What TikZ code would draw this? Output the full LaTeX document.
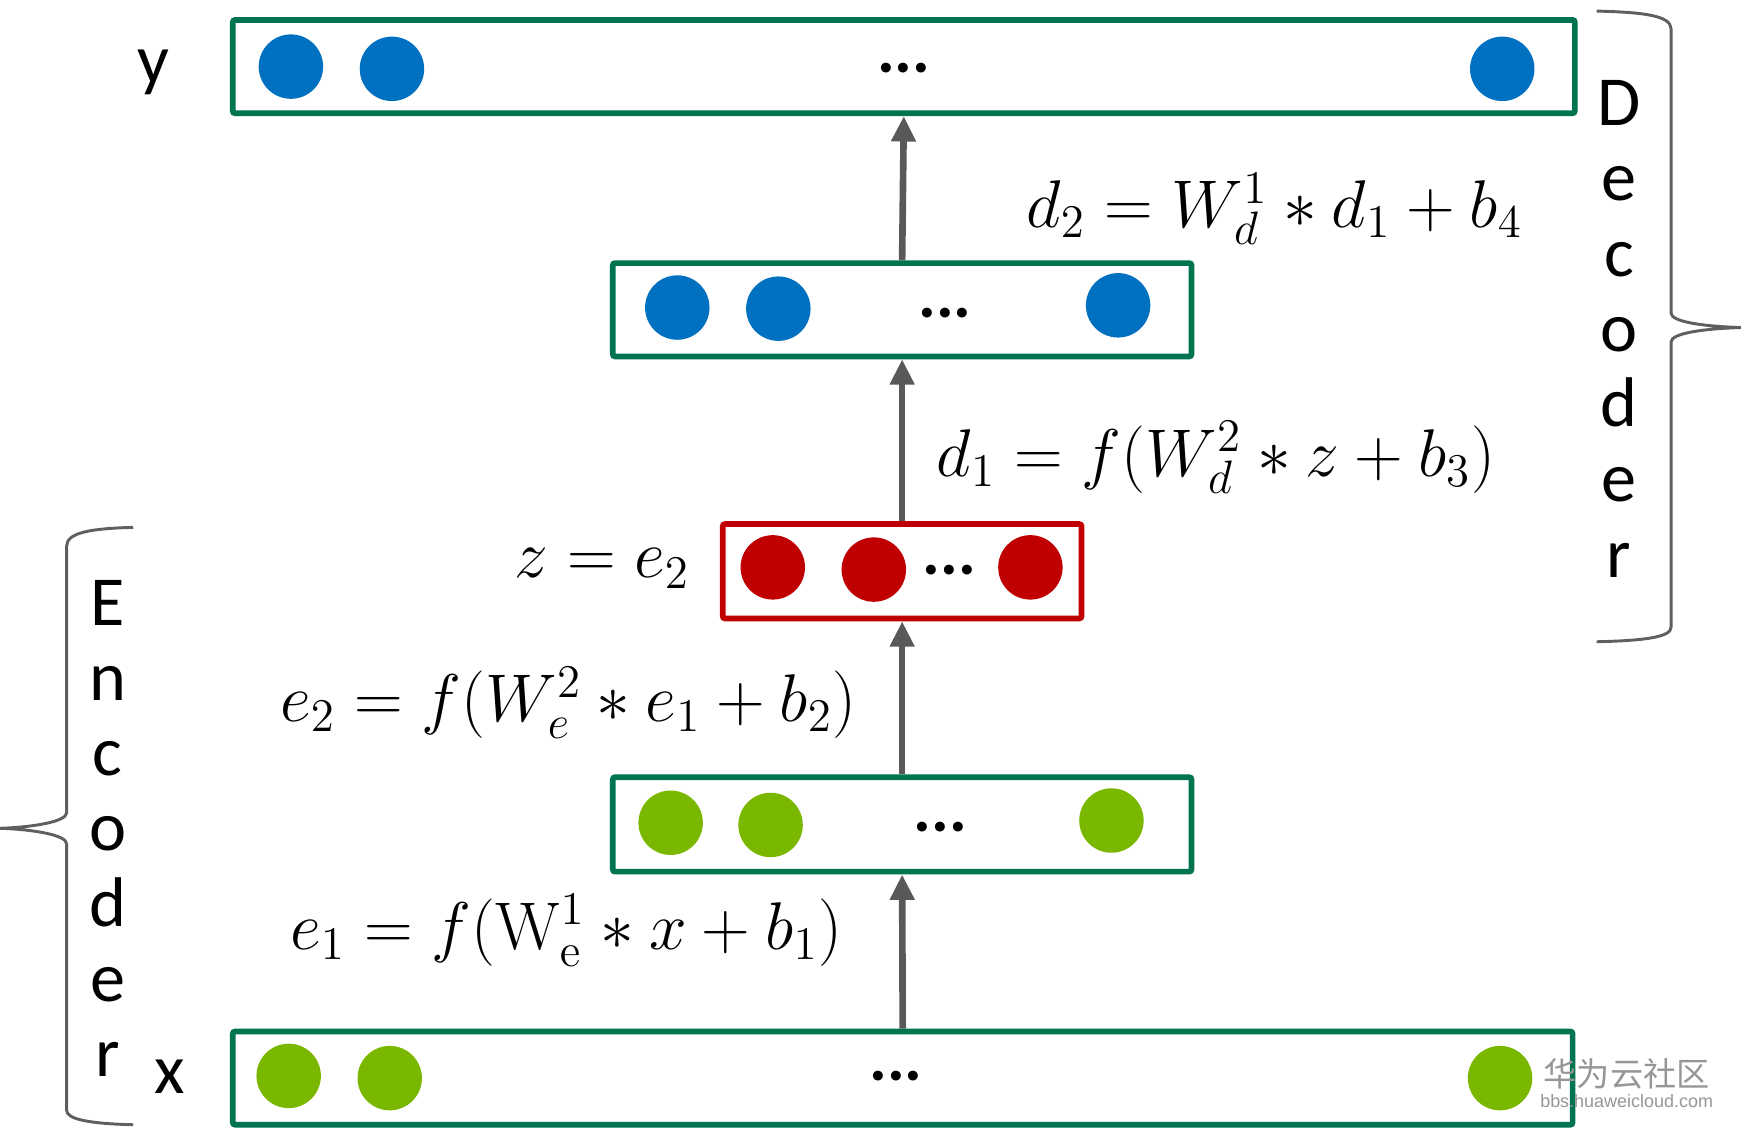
\documentclass[tikz,border=0pt]{standalone}
\usepackage[no-math]{fontspec}
\setmainfont{Carlito}
\newfontfamily\cjkfont{Noto Sans CJK SC}
\newfontfamily\wmfont{Liberation Sans}
\usetikzlibrary{arrows.meta}
\definecolor{boxgreen}{RGB}{0,115,80}
\definecolor{boxred}{RGB}{192,0,0}
\definecolor{dotblue}{RGB}{0,112,192}
\definecolor{dotgreen}{RGB}{122,184,0}
\definecolor{dotred}{RGB}{192,0,0}
\definecolor{arrgray}{RGB}{89,89,89}
\definecolor{bracegray}{RGB}{95,95,95}
\definecolor{wmgray}{RGB}{150,150,150}
\tikzset{
  layer/.style={draw=boxgreen, line width=1.45pt, rounded corners=0.6pt, inner sep=0pt, fill=none},
  zlayer/.style={draw=boxred, line width=1.45pt, rounded corners=0.6pt, inner sep=0pt},
  unit/.style={circle, inner sep=0pt, minimum size=0.58cm, draw=none},
  bunit/.style={unit, fill=dotblue},
  gunit/.style={unit, fill=dotgreen},
  runit/.style={unit, fill=dotred},
  ell/.style={font=\fontsize{17}{20}\selectfont\bfseries, inner sep=0pt},
  arr/.style={draw=arrgray, line width=1.7pt, -{Triangle[length=6.5pt,width=6pt]}},
  eq/.style={font=\fontsize{16.6}{20}\selectfont, inner sep=0pt},
  vlabel/.style={font=\fontsize{18}{20}\selectfont, inner sep=0pt, anchor=base},
  brace/.style={draw=bracegray, line width=0.75pt},
}
\begin{document}
\begin{tikzpicture}[x=0.01cm, y=-0.01cm]
\useasboundingbox (0,0) rectangle (1568,1025);
% layers
\node[layer, minimum width=12.08cm, minimum height=0.84cm] (ybox) at (814,60) {};
\node[layer, minimum width=5.21cm, minimum height=0.84cm] (dbox) at (812.5,279) {};
\node[zlayer, minimum width=3.23cm, minimum height=0.85cm] (zbox) at (812.5,514.5) {};
\node[layer, minimum width=5.21cm, minimum height=0.85cm] (ebox) at (812.5,742.5) {};
\node[layer, minimum width=12.06cm, minimum height=0.84cm] (xbox) at (813,971) {};
% units
\node[bunit] (y1) at (262,60) {};
\node[bunit] (y2) at (353,62) {};
\node[bunit] (y3) at (1353,62) {};
\node[ell] (ydots) at (814,61) {...};
\node[bunit] (d1) at (610,277) {};
\node[bunit] (d2) at (701,278) {};
\node[bunit] (d3) at (1007,275) {};
\node[ell] (ddots) at (851,282) {...};
\node[runit] (z1) at (696,511) {};
\node[runit] (z2) at (787,513) {};
\node[runit] (z3) at (928,511) {};
\node[ell] (zdots) at (855,513) {...};
\node[gunit] (e1) at (604,741) {};
\node[gunit] (e2) at (694,743) {};
\node[gunit] (e3) at (1001,739) {};
\node[ell] (edots) at (847,745) {...};
\node[gunit] (x1) at (260,969) {};
\node[gunit] (x2) at (351,971) {};
\node[gunit] (x3) at (1351,971) {};
\node[ell] (xdots) at (807,969) {...};
% arrows
\draw[arr] (xbox.north) -- (ebox.south);
\draw[arr] (ebox.north) -- (zbox.south);
\draw[arr] (zbox.north) -- (dbox.south);
\draw[arr] (dbox.north) -- (ybox.south);
% equations
\node[eq] (eqe1) at (510,838) {$e_1 = f(\mathrm{W}_{\mathrm{e}}^1 \ast x + b_1)$};
\node[eq] (eqe2) at (512,633) {$e_2 = f(W_e^2 \ast e_1 + b_2)$};
\node[eq] (eqd1) at (1095,412) {$d_1 = f(W_d^2 \ast z + b_3)$};
\node[eq] (eqd2) at (1148,188) {$d_2 = W_d^1 \ast d_1 + b_4$};
\node[eq, anchor=east] (eqz) at (622,512) {$z = e_2$};
% input/output labels
\node[vlabel] (ylab) at (138,75) {y};
\node[vlabel] (xlab) at (153,985) {x};
% Encoder / Decoder letters
\foreach \l [count=\i from 0] in {E,n,c,o,d,e,r}
  \node[vlabel] (enc\i) at (97,563+67.8*\i) {\l};
\foreach \l [count=\i from 0] in {D,e,c,o,d,e,r}
  \node[vlabel] (dec\i) at (1458,113+67.8*\i) {\l};
% braces
\draw[brace] (120,475) .. controls (80,476) and (60,480) .. (60,492)
  -- (60,732) .. controls (60,740) and (30,745) .. (0,746)
  .. controls (30,747) and (60,752) .. (60,760)
  -- (60,1000) .. controls (60,1008) and (80,1012) .. (120,1013);
\draw[brace] (1438,10) .. controls (1480,11) and (1505,14) .. (1505,26)
  -- (1505,282) .. controls (1505,290) and (1535,294) .. (1568,295)
  .. controls (1535,296) and (1505,300) .. (1505,308)
  -- (1505,565) .. controls (1505,574) and (1480,577) .. (1438,578);
% watermark
\node[text=wmgray, font=\cjkfont\fontsize{8.5}{9}\selectfont, inner sep=0pt] (wm1) at (1465,967) {华为云社区};
\node[text=wmgray, font=\wmfont\fontsize{4.6}{5}\selectfont, inner sep=0pt] (wm2) at (1465,992) {bbs.huaweicloud.com};
\end{tikzpicture}
\end{document}
